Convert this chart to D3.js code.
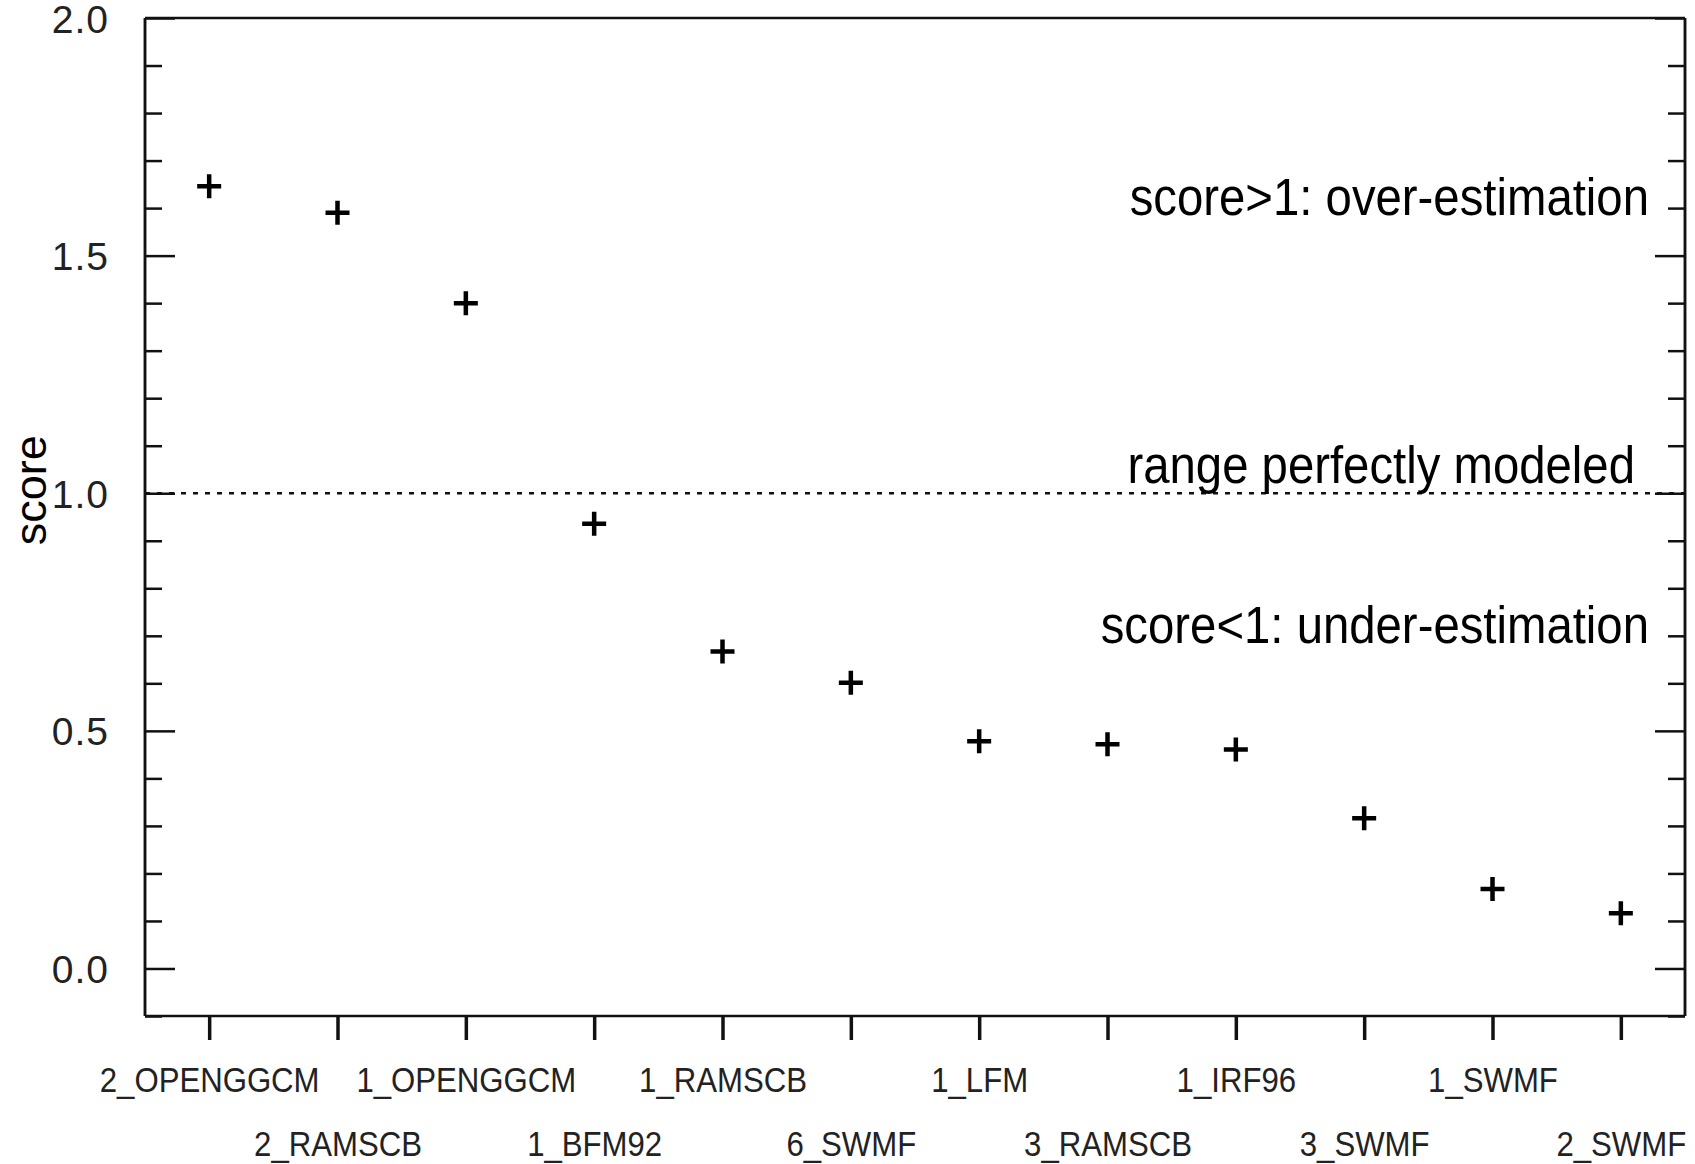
<!DOCTYPE html>
<html>
<head>
<meta charset="utf-8">
<script src="https://cdn.jsdelivr.net/npm/d3@7"></script>
<style>
  body { margin: 0; background: #fff; }
  text { font-family: "Liberation Sans", Arial, sans-serif; fill: #000; }
</style>
</head>
<body>
<div id="chart"></div>
<script>
// model runs, in plotting order
const models = ["2_OPENGGCM", "2_RAMSCB", "1_OPENGGCM", "1_BFM92", "1_RAMSCB", "6_SWMF",
                "1_LFM", "3_RAMSCB", "1_IRF96", "3_SWMF", "1_SWMF", "2_SWMF"];
const scores = [1.646, 1.590, 1.400, 0.936, 0.667, 0.601, 0.478, 0.472, 0.461, 0.316, 0.167, 0.116];

const yMajor = [0.0, 0.5, 1.0, 1.5, 2.0];
const yMinor = [-0.1, 0.1, 0.2, 0.3, 0.4, 0.6, 0.7, 0.8, 0.9, 1.1, 1.2, 1.3, 1.4, 1.6, 1.7, 1.8, 1.9];

const noteTexts = ["score>1: over-estimation", "range perfectly modeled", "score<1: under-estimation"];
const noteValues = [1.585, 1.022, 0.685];
const perfectScore = 1.0;

class ScorePlot {

    constructor(selector) {
        this.margin = {top: 18, right: 10, bottom: 148, left: 145};
        this.width = 1695 - this.margin.left - this.margin.right;
        this.height = 1164 - this.margin.top - this.margin.bottom;

        this.svg = d3.select(selector)
            .append("svg")
            .attr("width", 1695)
            .attr("height", 1164)
            .append("g")
            .attr("transform", `translate(${this.margin.left},${this.margin.top})`);

        this.x = d3.scaleLinear().domain([-0.5, 11.5]).range([0, this.width]);
        this.y = d3.scaleLinear().domain([-0.1, 2.0]).range([this.height, 0]);

        this.drawAxes();
        this.drawReference();
        this.drawPoints();
    }

    drawAxes() {
        const w = this.width, h = this.height;

        // left axis: minor ticks, then long major ticks with labels
        const left = this.svg.append("g")
            .call(d3.axisLeft(this.y).tickValues(yMinor).tickSize(-17).tickFormat(""));
        const leftMajor = this.svg.append("g")
            .call(d3.axisLeft(this.y).tickValues(yMajor).tickSize(-30)
                .tickFormat(d3.format(".1f")));
        leftMajor.selectAll("text")
            .attr("x", -36)
            .attr("dy", "0.36em")
            .style("font-size", "39px")
            .style("letter-spacing", "1px")
            .style("fill", "#222");

        // right axis mirrors the left ticks, no labels
        const right = this.svg.append("g")
            .attr("transform", `translate(${w},0)`)
            .call(d3.axisRight(this.y).tickValues(yMinor).tickSize(-17).tickFormat(""));
        const rightMajor = this.svg.append("g")
            .attr("transform", `translate(${w},0)`)
            .call(d3.axisRight(this.y).tickValues(yMajor).tickSize(-30).tickFormat(""));

        // bottom axis: ticks pointing outward, labels staggered on two rows
        const bottom = this.svg.append("g")
            .attr("transform", `translate(0,${h})`)
            .call(d3.axisBottom(this.x).tickValues(d3.range(models.length)).tickSize(24)
                .tickFormat(i => models[i]));
        bottom.selectAll(".tick line").attr("stroke-width", 3.5);
        bottom.selectAll(".tick text")
            .attr("x", 0)
            .attr("y", (d, i) => i % 2 === 0 ? 76 : 140)
            .attr("dy", 0)
            .attr("transform", "scale(0.89,1)")
            .style("font-size", "35px")
            .style("fill", "#222");

        // top axis line
        const top = this.svg.append("g")
            .call(d3.axisTop(this.x).tickValues([]).tickSizeOuter(0));

        [left, leftMajor, right, rightMajor, bottom, top].forEach(g => {
            g.selectAll("path.domain").attr("stroke", "#111").attr("stroke-width", 2.5);
            g.selectAll(".tick line").attr("stroke", "#111");
        });
        [left, leftMajor, right, rightMajor].forEach(g => {
            g.selectAll(".tick line").attr("stroke-width", 2.5);
            g.select("path.domain").attr("d", `M0,0V${h}`);
        });
        top.select("path.domain").attr("d", `M0,0H${w}`);
        bottom.select("path.domain").attr("d", `M0,0H${w}`);

        // y axis title
        this.svg.append("text")
            .attr("transform", `translate(${46 - this.margin.left},${this.y(1.0) - 3}) rotate(-90)`)
            .attr("text-anchor", "middle")
            .style("font-size", "45px")
            .text("score");
    }

    drawReference() {
        this.svg.append("line")
            .attr("x1", 0)
            .attr("x2", this.width)
            .attr("y1", this.y(perfectScore))
            .attr("y2", this.y(perfectScore))
            .attr("stroke", "#111")
            .attr("stroke-width", 2.5)
            .attr("stroke-dasharray", "5,7");

        this.svg.selectAll(".note")
            .data(noteTexts)
            .enter()
            .append("text")
            .attr("class", "note")
            .attr("text-anchor", "end")
            .attr("transform", (d, i) => `translate(${this.width - 36 - (i === 1 ? 14 : 0)},${this.y(noteValues[i])}) scale(0.91,1)`)
            .style("font-size", "52px")
            .text(d => d);
    }

    drawPoints() {
        const arm = 12;
        const pts = this.svg.selectAll(".pt")
            .data(scores)
            .enter()
            .append("g")
            .attr("class", "pt")
            .attr("transform", (d, i) => `translate(${this.x(i)},${this.y(d)})`);
        pts.append("path")
            .attr("d", `M${-arm},0H${arm}M0,${-arm}V${arm}`)
            .attr("stroke", "#000")
            .attr("stroke-width", 4.5);
    }
}

new ScorePlot("#chart");
</script>
</body>
</html>
